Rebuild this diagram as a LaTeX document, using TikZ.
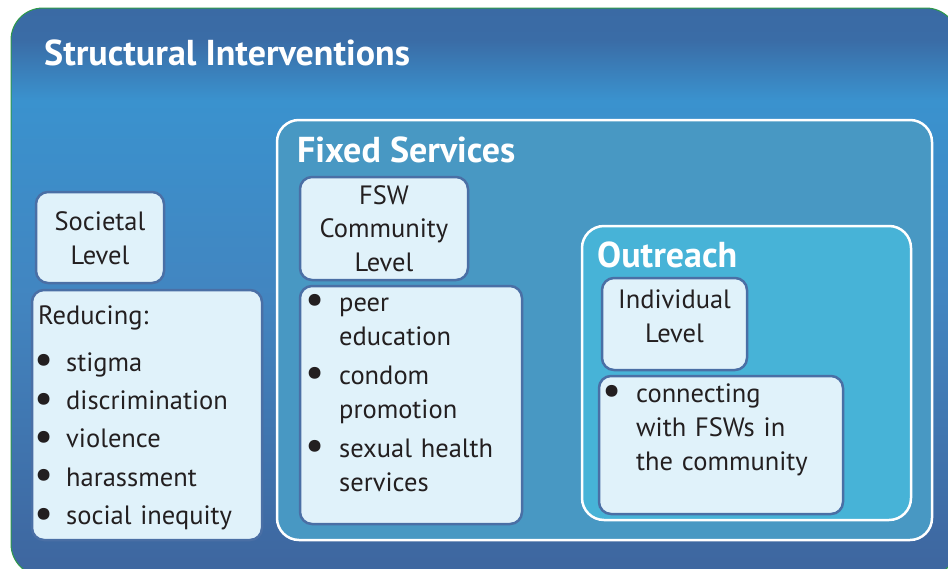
\documentclass[tikz,border=0pt]{standalone}
\usepackage{fontspec}
\usepackage{graphicx}
\setmainfont{PT Sans}
\definecolor{outgreen}{HTML}{2E9A48}
\definecolor{sA}{HTML}{3A6AA4}
\definecolor{sB}{HTML}{3A6CA6}
\definecolor{sC}{HTML}{3A92CE}
\definecolor{sD}{HTML}{4285C0}
\definecolor{sE}{HTML}{3E67A0}
\definecolor{fixedfill}{HTML}{4898C3}
\definecolor{outfill}{HTML}{47B3D7}
\definecolor{boxfill}{HTML}{E0F2FA}
\definecolor{boxline}{HTML}{4A6FA5}
\definecolor{txtc}{HTML}{231F20}
\pgfdeclareverticalshading{outerbg}{100bp}{color(0bp)=(sE); color(26.3bp)=(sE); color(49.3bp)=(sD); color(66.9bp)=(sC); color(72.2bp)=(sB); color(75bp)=(sA); color(100bp)=(sA)}
\newcommand\blt{\makebox[0pt]{\raisebox{-2.5pt}{\scalebox{1.6}{\textbullet}}}}
% #1 = gap from bullet centre to text, #2 = lines
\newcommand\bitem[2]{\noindent\hspace*{6pt}\blt\hspace*{#1}\begin{tabular}[t]{@{}l@{}}#2\end{tabular}\par}
\tikzset{
  lbox/.style={draw=boxline, line width=2.5pt, fill=boxfill, rounded corners=12pt, inner sep=0pt, outer sep=0pt, anchor=north west},
  wbox/.style={draw=white, line width=2.5pt, rounded corners=22pt, inner sep=0pt, outer sep=0pt, anchor=north west},
  ttl/.style={text=white, font=\bfseries\fontsize{36pt}{40pt}\selectfont, inner sep=0pt, anchor=base west},
  ctxt/.style={text=txtc, font=\fontsize{26.5pt}{34pt}\selectfont, align=center, inner sep=0pt},
  ltxt/.style={text=txtc, font=\fontsize{26.5pt}{34pt}\selectfont, inner sep=0pt, anchor=base west}
}
\begin{document}
\begin{tikzpicture}[x=1pt,y=-1pt]
\useasboundingbox (0,0) rectangle (948,568);
\begin{scope}
\clip (0,0) rectangle (948,568);
\path[draw=outgreen, line width=1pt, shading=outerbg, rounded corners=32pt] (11,8) rectangle (958,576);
\end{scope}
\node[text=white, font=\bfseries\fontsize{36pt}{40pt}\selectfont, inner sep=0pt, anchor=base west] (title) at (44,65) {Structural Interventions};
% Fixed services
\node[wbox, fill=fixedfill, minimum width=655pt, minimum height=420pt] (fixed) at (277,120) {};
\node[ttl] (fixedt) at (297,162) {Fixed Services};
% Outreach
\node[wbox, fill=outfill, minimum width=329pt, minimum height=294pt] (outr) at (582,226) {};
\node[ttl] (outrt) at (597,267) {Outreach};
% Societal
\node[lbox, minimum width=128pt, minimum height=91pt] (soc) at (36,192) {};
\node[ctxt] (soct) at (100,238) {Societal\\Level};
\node[lbox, minimum width=230pt, minimum height=250pt] (red) at (32,290) {};
\node[ltxt, text width=225pt] (redt) at (38,324) {\raggedright\parskip=4.3pt Reducing:\par\vspace{9pt}%
\bitem{22pt}{stigma}\bitem{22pt}{discrimination}\bitem{22pt}{violence}\bitem{22pt}{harassment}\bitem{22pt}{social inequity}};
% FSW community
\node[lbox, minimum width=168pt, minimum height=103pt] (fsw) at (300,177) {};
\node[ctxt, text width=160pt] (fswt) at (fsw.center) {\baselineskip=33pt FSW\\Community\\Level};
\node[lbox, minimum width=222pt, minimum height=238pt] (fsl) at (300,286) {};
\node[ltxt, text width=215pt] (fslt) at (309,311) {\raggedright\parskip=4pt%
\bitem{24pt}{peer\\education}\bitem{24pt}{condom\\promotion}\bitem{24pt}{sexual health\\services}};
% Individual
\node[lbox, minimum width=145pt, minimum height=92pt] (ind) at (602,278) {};
\node[ctxt] (indt) at (674.5,316) {Individual\\Level};
\node[lbox, minimum width=244pt, minimum height=138pt] (con) at (599,376) {};
\node[ltxt, text width=235pt] (cont) at (606,402) {\raggedright%
\bitem{24pt}{connecting\\with FSWs in\\the community}};
\end{tikzpicture}
\end{document}
